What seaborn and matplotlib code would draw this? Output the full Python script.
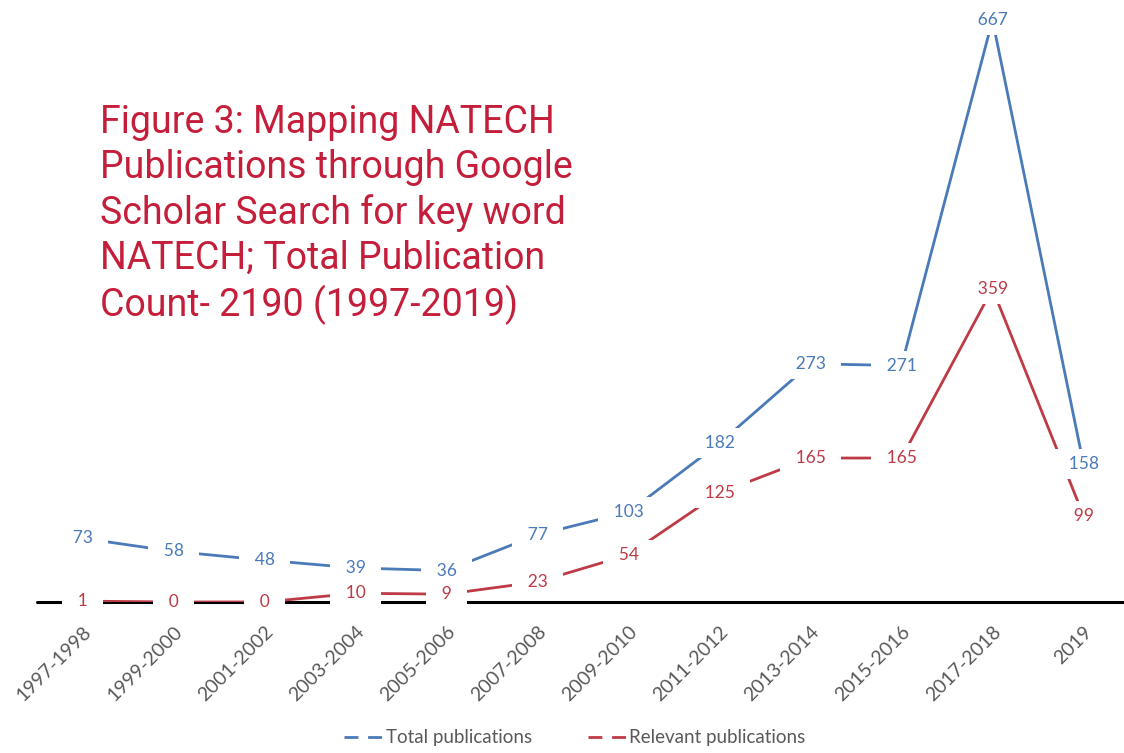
import pandas as pd
import seaborn as sns
import matplotlib.pyplot as plt
from matplotlib.lines import Line2D

# dati
periods = ["1997-1998", "1999-2000", "2001-2002", "2003-2004", "2005-2006", "2007-2008",
           "2009-2010", "2011-2012", "2013-2014", "2015-2016", "2017-2018", "2019"]
total_pubs = [73, 58, 48, 39, 36, 77, 103, 182, 273, 271, 667, 158]
relevant_pubs = [1, 0, 0, 10, 9, 23, 54, 125, 165, 165, 359, 99]

series_names = ["Total publications", "Relevant publications"]
colors = ["#4a7ab8", "#be3a45"]
title_text = ("Figure 3: Mapping NATECH\nPublications through Google\n"
              "Scholar Search for key word\nNATECH; Total Publication\n"
              "Count- 2190 (1997-2019)")


def main():
    df = pd.DataFrame({
        "period": periods * 2,
        "idx": list(range(len(periods))) * 2,
        "value": total_pubs + relevant_pubs,
        "series": [series_names[0]] * len(periods) + [series_names[1]] * len(periods),
    })

    sns.set_theme(style="white")
    plt.rcParams["font.family"] = ["Lato", "DejaVu Sans"]

    fig = plt.figure(figsize=(11.24, 7.53), dpi=100)
    ax = fig.add_axes([37 / 1124, 151 / 753, 1092 / 1124, 592 / 753])

    sns.lineplot(data=df, x="idx", y="value", hue="series", palette=colors,
                 linewidth=2, legend=False, ax=ax, zorder=2)

    # linea dell'asse a zero
    ax.axhline(0, color="black", linewidth=2.2, zorder=1.5, clip_on=False)

    # etichette dei valori, con sfondo bianco che interrompe la linea
    for vals, col, z in zip([total_pubs, relevant_pubs], colors, [3.5, 3]):
        for i, v in enumerate(vals):
            ax.text(i, v, f"\u2002{v}\u2002", color=col, fontsize=12.5, ha="center", va="center",
                    zorder=z, clip_on=False,
                    bbox=dict(boxstyle="square,pad=0.4", fc="white", ec="none"))

    ax.set_xlim(-0.5, 11.5)
    ax.set_ylim(0, 667 * 592 / 582)
    ax.set_xticks(range(len(periods)))
    ax.set_xticklabels(periods, rotation=45, ha="right", rotation_mode="anchor",
                       fontsize=14, color="#595959")
    ax.tick_params(axis="x", length=0, pad=15)
    ax.set_yticks([])
    ax.set_xlabel("")
    ax.set_ylabel("")
    for s in ax.spines.values():
        s.set_visible(False)

    handles = [Line2D([0], [0], color=c, linewidth=2, linestyle=(0, (5, 3.5))) for c in colors]
    fig.legend(handles, series_names, loc="center", bbox_to_anchor=(575 / 1124, 1 - 738 / 753),
               ncol=2, frameon=False, fontsize=13.5, labelcolor="#595959",
               handlelength=2.0, handletextpad=0.2, columnspacing=3.0)

    fig.text(100 / 1124, 1 - 104 / 753, title_text, color="#c41e3a", fontsize=27,
             family=["Roboto", "DejaVu Sans"], ha="left", va="top", linespacing=1.27)

    fig.savefig("out.png", dpi=100)
    plt.close(fig)


if __name__ == "__main__":
    main()
